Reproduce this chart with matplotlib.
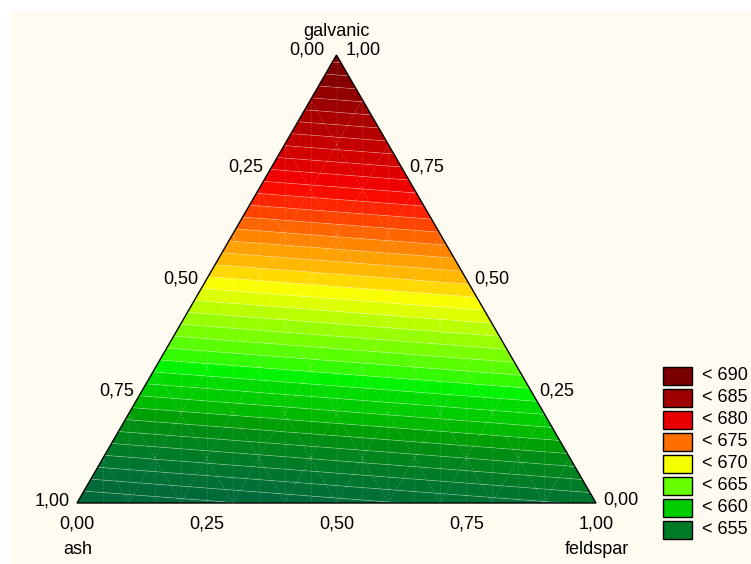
import numpy as np
import matplotlib
matplotlib.use("Agg")
import matplotlib.pyplot as plt
import matplotlib.tri as mtri
from matplotlib.colors import LinearSegmentedColormap
from matplotlib.patches import Rectangle, Polygon

plt.rcParams['font.family'] = ['Liberation Sans', 'DejaVu Sans']

# fitted response at the three pure-component corners
corner_names = ["ash", "feldspar", "galvanic"]
corner_values = [652.0, 655.2, 689.6]

# legend classes
class_labels = ["< 690", "< 685", "< 680", "< 675", "< 670", "< 665", "< 660", "< 655"]
class_colors = ["#7a0000", "#a00000", "#e80000", "#ff6e00", "#f5ff00", "#66ff00", "#00cc00", "#007a25"]

# colour ramp anchors (value, colour)
ramp_values = [652.0, 653.5, 655.4, 657.1, 658.7, 659.9, 660.7, 662.3, 663.5, 665.1, 666.7,
               668.3, 669.5, 670.7, 671.9, 673.5, 674.7, 677.2, 678.0, 679.6, 681.2,
               682.8, 684.0, 685.2, 686.8, 688.0, 690.0]
ramp_colors = ["#006838", "#006b38", "#007530", "#008020", "#009010", "#00a800", "#00c000",
               "#00d800", "#00f500", "#50ff00", "#80ff00", "#b0ff00", "#e0ff00", "#ffff00",
               "#ffc800", "#ffa000", "#ff8000", "#ff3000", "#ff1000", "#f00000", "#d80000",
               "#c00000", "#b00000", "#a00000", "#900000", "#800000", "#780000"]

tick_values = [0.0, 0.25, 0.5, 0.75, 1.0]
tick_text = ["0,00", "0,25", "0,50", "0,75", "1,00"]

W, H = 751, 564
fig = plt.figure(figsize=(W / 100, H / 100), dpi=100)
fig.patch.set_facecolor("white")
fig.add_artist(Rectangle((11 / W, 0), 1, 1 - 11 / H, transform=fig.transFigure,
                         facecolor="#fffbf0", edgecolor="none", zorder=-10))

h = np.sqrt(3) / 2
ax = fig.add_axes([77 / W, (H - 503) / H, 519 / W, 448 / H])
ax.set_xlim(0, 1)
ax.set_ylim(0, h)
ax.axis("off")
ax.patch.set_alpha(0)

# grid of barycentric points
n = 80
pts = []
for i in range(n + 1):
    for j in range(n + 1 - i):
        pts.append((j / n, i / n))
pts = np.array(pts)
fv = pts[:, 0]
gv = pts[:, 1]
av = 1 - fv - gv
x = fv + gv / 2
y = gv * h
z = corner_values[0] * av + corner_values[1] * fv + corner_values[2] * gv
tri = mtri.Triangulation(x, y)

vmin, vmax = ramp_values[0], ramp_values[-1]
cmap = LinearSegmentedColormap.from_list(
    "ramp", [((v - vmin) / (vmax - vmin), c) for v, c in zip(ramp_values, ramp_colors)])
levels = np.arange(651, 692, 1.0)
ax.tricontourf(tri, z, levels=levels, cmap=cmap, vmin=vmin, vmax=vmax, antialiased=True)
ax.tricontour(tri, z, levels=levels, colors="white", linewidths=0.6, alpha=0.3)

# faint mesh lines
for k in np.arange(0.1, 1.0, 0.1):
    ax.plot([k, k / 2], [0, k * h], color="white", lw=0.5, alpha=0.25, ls=(0, (3, 2)))
    ax.plot([k, (1 + k) / 2], [0, (1 - k) * h], color="white", lw=0.5, alpha=0.25, ls=(0, (3, 2)))
for k in np.arange(0.05, 1.0, 0.05):
    top = min(k, 1 - k) * 2 * h
    ax.plot([k, k], [0, top], color="white", lw=0.5, alpha=0.2, ls=(0, (3, 2)))

ax.add_patch(Polygon([(0, 0), (1, 0), (0.5, h)], closed=True, fill=False,
                     edgecolor="black", lw=1.0, zorder=5, clip_on=False))

fs = 13
# bottom axis (feldspar)
for v, t in zip(tick_values, tick_text):
    ax.annotate(t, (v, 0), xytext=(0, -21), textcoords="offset pixels",
                ha="center", va="center", fontsize=fs)
# left side (ash): 0 at apex, 1 at bottom-left
for v, t in zip(tick_values, tick_text):
    px, py = (1 - v) / 2, (1 - v) * h
    dx, dy = -8, 0
    if v == 0.0:
        dx, dy = -12, 5
    elif v == 1.0:
        dx, dy = -7, 2
    ax.annotate(t, (px, py), xytext=(dx, dy), textcoords="offset pixels",
                ha="right", va="center", fontsize=fs)
# right side (galvanic): 1 at apex, 0 at bottom-right
for v, t in zip(tick_values, tick_text):
    px, py = 1 - v / 2, v * h
    dx, dy = 8, 0
    if v == 1.0:
        dx, dy = 9, 5
    elif v == 0.0:
        dx, dy = 7, 3
    ax.annotate(t, (px, py), xytext=(dx, dy), textcoords="offset pixels",
                ha="left", va="center", fontsize=fs)

ax.annotate(corner_names[2], (0.5, h), xytext=(0, 23), textcoords="offset pixels",
            ha="center", va="center", fontsize=fs)
ax.annotate(corner_names[0], (0, 0), xytext=(1, -46), textcoords="offset pixels",
            ha="center", va="center", fontsize=fs)
ax.annotate(corner_names[1], (1, 0), xytext=(1, -46), textcoords="offset pixels",
            ha="center", va="center", fontsize=fs)

# legend
for i, (lab, col) in enumerate(zip(class_labels, class_colors)):
    yc = 376 + 22 * i
    fig.add_artist(Rectangle((663 / W, 1 - (yc + 9) / H), 29 / W, 18 / H,
                             transform=fig.transFigure, facecolor=col,
                             edgecolor="black", lw=1.0))
    fig.text(702 / W, 1 - yc / H, lab, ha="left", va="center", fontsize=fs)

fig.savefig("out.png", dpi=100, facecolor=fig.get_facecolor())
